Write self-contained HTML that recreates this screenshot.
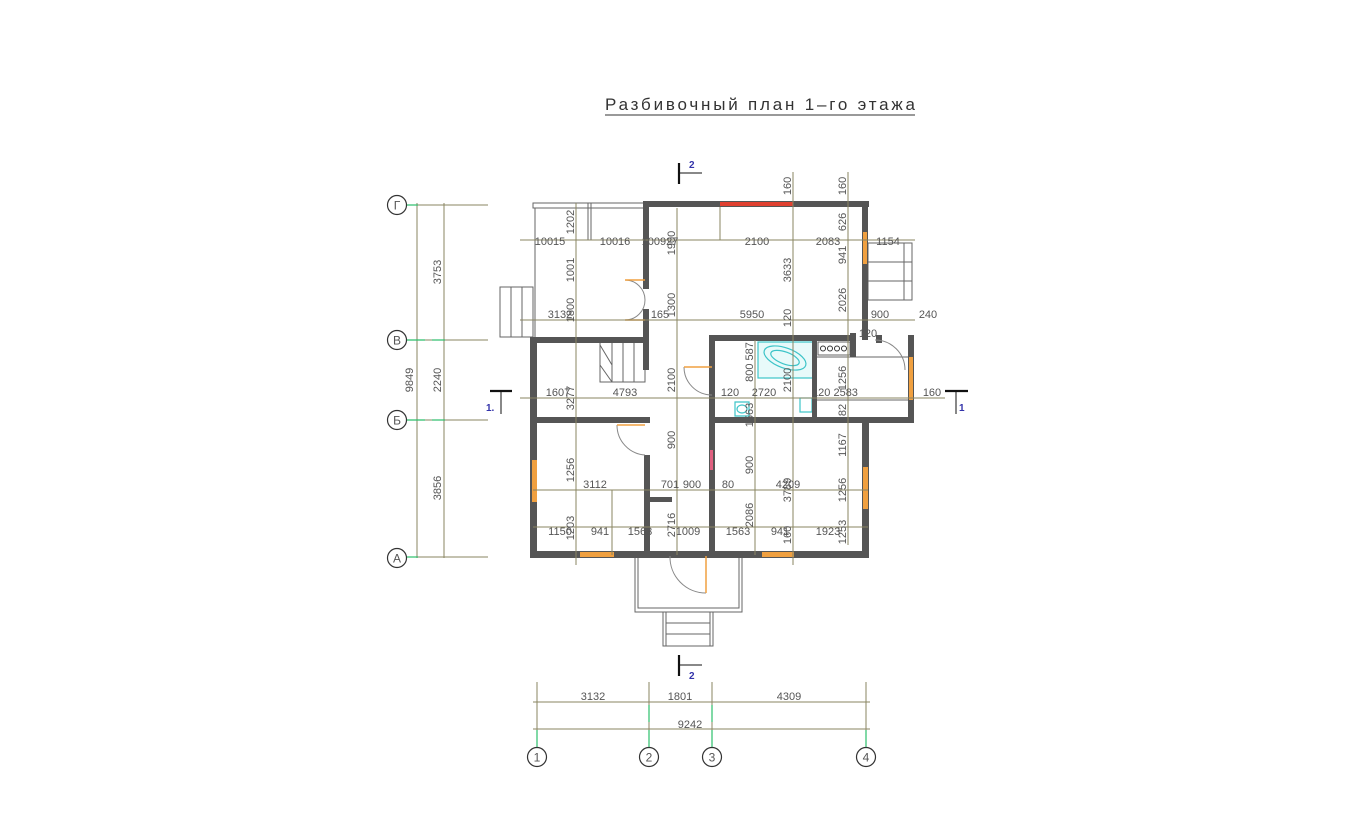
<!DOCTYPE html>
<html><head><meta charset="utf-8"><style>
html,body{margin:0;padding:0;background:#fff;width:1350px;height:840px;overflow:hidden}
svg{display:block}
text{font-family:"Liberation Sans","DejaVu Sans",sans-serif;fill:#555}
.d{stroke:#8a8562;stroke-width:1;fill:none}
.w{fill:#555}
.t{stroke:#666;stroke-width:1;fill:none}
.dt{font-size:11px;fill:#5a5a50}
.o{fill:#f0a040}
text.b{fill:#3333aa;font-size:10px;font-weight:bold}
</style></head><body>
<svg width="1350" height="840" viewBox="0 0 1350 840" xmlns="http://www.w3.org/2000/svg">
<!-- title -->
<text x="605" y="110" font-size="17" textLength="310" lengthAdjust="spacing" style="fill:#333">Разбивочный  план  1–го  этажа</text>
<line x1="605" y1="115" x2="915" y2="115" stroke="#333" stroke-width="1"/>

<!-- left axes -->
<g class="d">
<line x1="417" y1="203" x2="417" y2="558"/>
<line x1="444" y1="203" x2="444" y2="558"/>
<line x1="408" y1="205" x2="488" y2="205"/>
<line x1="408" y1="340" x2="488" y2="340"/>
<line x1="408" y1="420" x2="488" y2="420"/>
<line x1="408" y1="557" x2="488" y2="557"/>
</g>
<g stroke="#2bbf6a" stroke-width="1.2">
<line x1="407" y1="205" x2="418" y2="205"/><line x1="407" y1="340" x2="425" y2="340"/><line x1="432" y1="340" x2="445" y2="340"/>
<line x1="407" y1="420" x2="425" y2="420"/><line x1="432" y1="420" x2="445" y2="420"/><line x1="407" y1="557" x2="418" y2="557"/>
</g>
<g fill="#fff" stroke="#333" stroke-width="1.2">
<circle cx="397" cy="205" r="9.5"/><circle cx="397" cy="340" r="9.5"/><circle cx="397" cy="420" r="9.5"/><circle cx="397" cy="558" r="9.5"/>
</g>
<g font-size="12" text-anchor="middle" style="fill:#333">
<text x="397" y="209.5">Г</text><text x="397" y="344.5">В</text><text x="397" y="424.5">Б</text><text x="397" y="562.5">А</text>
</g>
<g class="dt" text-anchor="middle">
<text transform="translate(441,272) rotate(-90)">3753</text>
<text transform="translate(441,380) rotate(-90)">2240</text>
<text transform="translate(441,488) rotate(-90)">3856</text>
<text transform="translate(413,380) rotate(-90)">9849</text>
</g>

<!-- bottom axes -->
<g class="d">
<line x1="537" y1="682" x2="537" y2="745"/><line x1="649" y1="682" x2="649" y2="745"/>
<line x1="712" y1="682" x2="712" y2="745"/><line x1="866" y1="682" x2="866" y2="745"/>
<line x1="533" y1="702" x2="870" y2="702"/><line x1="533" y1="729" x2="870" y2="729"/>
</g>
<g stroke="#2bbf6a" stroke-width="1.2">
<line x1="537" y1="730" x2="537" y2="747"/><line x1="649" y1="705" x2="649" y2="722"/><line x1="649" y1="730" x2="649" y2="747"/>
<line x1="712" y1="705" x2="712" y2="722"/><line x1="712" y1="730" x2="712" y2="747"/><line x1="866" y1="730" x2="866" y2="747"/>
</g>
<g fill="#fff" stroke="#333" stroke-width="1.2">
<circle cx="537" cy="757" r="9.5"/><circle cx="649" cy="757" r="9.5"/><circle cx="712" cy="757" r="9.5"/><circle cx="866" cy="757" r="9.5"/>
</g>
<g font-size="12" text-anchor="middle" style="fill:#333">
<text x="537" y="761.5">1</text><text x="649" y="761.5">2</text><text x="712" y="761.5">3</text><text x="866" y="761.5">4</text>
</g>
<g class="dt" text-anchor="middle">
<text x="593" y="700">3132</text><text x="680" y="700">1801</text><text x="789" y="700">4309</text><text x="690" y="728">9242</text>
</g>

<!-- section marks -->
<g stroke="#111" stroke-width="2.2" fill="none">
<line x1="679" y1="163" x2="679" y2="184"/><line x1="679" y1="655" x2="679" y2="676"/>
<line x1="490" y1="391" x2="512" y2="391"/><line x1="945" y1="391" x2="968" y2="391"/>
</g>
<g stroke="#111" stroke-width="1" fill="none">
<line x1="680" y1="173" x2="702" y2="173"/><line x1="680" y1="665" x2="702" y2="665"/>
<line x1="501" y1="392" x2="501" y2="414"/><line x1="956" y1="392" x2="956" y2="414"/>
</g>
<text class="b" x="689" y="168">2</text><text class="b" x="689" y="679">2</text><text class="b" x="486" y="411">1.</text><text class="b" x="959" y="411">1</text>

<!-- veranda thin lines -->
<g class="t">
<rect x="533" y="203" width="112" height="5"/>
<line x1="588" y1="203" x2="588" y2="240"/><line x1="591" y1="203" x2="591" y2="240"/>
<line x1="535" y1="208" x2="535" y2="340"/>
<rect x="500" y="287" width="33" height="50"/>
<line x1="511" y1="287" x2="511" y2="337"/><line x1="522" y1="287" x2="522" y2="337"/>
<rect x="868" y="243" width="44" height="57"/>
<line x1="868" y1="262" x2="912" y2="262"/><line x1="868" y1="281" x2="912" y2="281"/>
<line x1="904" y1="243" x2="904" y2="300"/>
<path d="M635 557 V612 H742 V557"/><path d="M638 557 V608 H739 V557"/>
<rect x="663" y="612" width="50" height="34"/><line x1="666" y1="612" x2="666" y2="646"/><line x1="710" y1="612" x2="710" y2="646"/>
<line x1="666" y1="623" x2="710" y2="623"/><line x1="666" y1="634" x2="710" y2="634"/>
<rect x="600" y="342" width="45" height="40"/>
<line x1="612" y1="342" x2="612" y2="382"/><line x1="623" y1="342" x2="623" y2="382"/><line x1="634" y1="342" x2="634" y2="382"/>
<line x1="600" y1="345" x2="612" y2="365"/><line x1="600" y1="365" x2="612" y2="382"/>
<rect x="818" y="342" width="32" height="13"/>
<line x1="815" y1="357" x2="910" y2="357"/><line x1="815" y1="400" x2="910" y2="400"/>
</g>
<g fill="none" stroke="#333" stroke-width="1"><circle cx="823" cy="348.5" r="2.5"/><circle cx="830" cy="348.5" r="2.5"/><circle cx="837" cy="348.5" r="2.5"/><circle cx="844" cy="348.5" r="2.5"/></g>

<g fill="none" stroke="#3cc4c8" stroke-width="1.2">
<rect x="758" y="342" width="55" height="36" fill="#e8fafa"/>
<ellipse cx="785" cy="358" rx="22" ry="10" transform="rotate(20 785 358)"/>
<ellipse cx="785" cy="358" rx="15" ry="6" transform="rotate(20 785 358)"/>
<path d="M735 402 h14 v14 h-14 z"/><ellipse cx="742" cy="409" rx="5" ry="4"/>
<rect x="800" y="398" width="12" height="14"/>
</g>

<!-- walls -->
<g class="w">
<rect x="643" y="201" width="226" height="6"/>
<rect x="862" y="201" width="6" height="139"/>
<rect x="643" y="201" width="6" height="88"/>
<rect x="643" y="309" width="6" height="35"/>
<rect x="530" y="337" width="119" height="6"/>
<rect x="530" y="337" width="7" height="221"/>
<rect x="530" y="551" width="339" height="7"/>
<rect x="862" y="417" width="7" height="141"/>
<rect x="709" y="335" width="145" height="6"/>
<rect x="850" y="333" width="6" height="24"/>
<rect x="709" y="335" width="6" height="223"/>
<rect x="812" y="335" width="5" height="85"/>
<rect x="709" y="417" width="205" height="6"/>
<rect x="908" y="335" width="6" height="88"/>
<rect x="876" y="335" width="6" height="8"/>
<rect x="533" y="417" width="117" height="6"/>
<rect x="644" y="455" width="6" height="100"/>
<rect x="644" y="497" width="28" height="5"/>
<rect x="643" y="342" width="6" height="28"/>
</g>
<rect x="720" y="202" width="73" height="4" fill="#e04030"/>
<rect x="863" y="232" width="4" height="32" class="o"/>
<rect x="909" y="357" width="4" height="43" class="o"/>
<rect x="532" y="460" width="5" height="42" class="o"/>
<rect x="863" y="467" width="5" height="42" class="o"/>
<rect x="580" y="552" width="34" height="5" class="o"/>
<rect x="762" y="552" width="32" height="5" class="o"/>
<rect x="710" y="450" width="3" height="20" fill="#e06080"/>
<g fill="none" stroke="#888" stroke-width="1">
<path d="M625 280 A20 20 0 0 1 645 300"/><path d="M625 320 A20 20 0 0 0 645 300"/>
<path d="M684 367 A28 28 0 0 0 712 395"/>
<path d="M617 425 A30 30 0 0 0 645 455"/>
<path d="M670 556 A36 36 0 0 0 706 593"/>
<path d="M875 340 A30 30 0 0 1 905 370"/>
</g>
<g stroke="#f0a040" stroke-width="1.5"><line x1="625" y1="280" x2="645" y2="280"/><line x1="625" y1="320" x2="645" y2="320"/><line x1="684" y1="367" x2="712" y2="367"/><line x1="617" y1="425" x2="645" y2="425"/><line x1="706" y1="556" x2="706" y2="593"/></g>

<g class="d">
<line x1="520" y1="240" x2="915" y2="240"/>
<line x1="520" y1="320" x2="915" y2="320"/>
<line x1="520" y1="398" x2="945" y2="398"/>
<line x1="533" y1="490" x2="868" y2="490"/>
<line x1="533" y1="527" x2="868" y2="527"/>
<line x1="576" y1="203" x2="576" y2="565"/>
<line x1="677" y1="208" x2="677" y2="555"/>
<line x1="755" y1="340" x2="755" y2="555"/>
<line x1="793" y1="172" x2="793" y2="565"/>
<line x1="848" y1="172" x2="848" y2="545"/>
<line x1="720" y1="207" x2="720" y2="240"/>
<line x1="612" y1="490" x2="612" y2="555"/>
</g>
<g class="dt" text-anchor="middle">
<text x="550" y="245">10015</text><text x="615" y="245">10016</text><text x="660" y="245">100927</text><text x="757" y="245">2100</text><text x="828" y="245">2083</text><text x="888" y="245">1154</text>
<text x="560" y="318">3132</text><text x="660" y="318">165</text><text x="752" y="318">5950</text><text x="880" y="318">900</text><text x="928" y="318">240</text><text x="868" y="337">120</text>
<text x="558" y="396">1607</text><text x="625" y="396">4793</text><text x="730" y="396">120</text><text x="764" y="396">2720</text><text x="835" y="396">120 2583</text><text x="932" y="396">160</text>
<text x="595" y="488">3112</text><text x="670" y="488">701</text><text x="692" y="488">900</text><text x="728" y="488">80</text><text x="788" y="488">4209</text>
<text x="560" y="535">1150</text><text x="600" y="535">941</text><text x="640" y="535">1563</text><text x="688" y="535">1009</text><text x="738" y="535">1563</text><text x="780" y="535">941</text><text x="828" y="535">1923</text>
</g>
<g class="dt" text-anchor="middle">
<text transform="translate(574,222) rotate(-90)">1202</text>
<text transform="translate(574,270) rotate(-90)">1001</text>
<text transform="translate(574,310) rotate(-90)">1800</text>
<text transform="translate(574,398) rotate(-90)">3277</text>
<text transform="translate(574,470) rotate(-90)">1256</text>
<text transform="translate(574,528) rotate(-90)">1203</text>
<text transform="translate(675,243) rotate(-90)">1900</text>
<text transform="translate(675,305) rotate(-90)">1300</text>
<text transform="translate(675,380) rotate(-90)">2100</text>
<text transform="translate(675,440) rotate(-90)">900</text>
<text transform="translate(675,525) rotate(-90)">2716</text>
<text transform="translate(753,362) rotate(-90)">800 587</text>
<text transform="translate(753,415) rotate(-90)">1563</text>
<text transform="translate(753,465) rotate(-90)">900</text>
<text transform="translate(753,515) rotate(-90)">2086</text>
<text transform="translate(791,186) rotate(-90)">160</text>
<text transform="translate(791,270) rotate(-90)">3633</text>
<text transform="translate(791,318) rotate(-90)">120</text>
<text transform="translate(791,380) rotate(-90)">2100</text>
<text transform="translate(791,490) rotate(-90)">3789</text>
<text transform="translate(791,535) rotate(-90)">160</text>
<text transform="translate(846,186) rotate(-90)">160</text>
<text transform="translate(846,222) rotate(-90)">626</text>
<text transform="translate(846,255) rotate(-90)">941</text>
<text transform="translate(846,300) rotate(-90)">2026</text>
<text transform="translate(846,378) rotate(-90)">1256</text>
<text transform="translate(846,410) rotate(-90)">82</text>
<text transform="translate(846,445) rotate(-90)">1167</text>
<text transform="translate(846,490) rotate(-90)">1256</text>
<text transform="translate(846,532) rotate(-90)">1253</text>
</g>
</svg>
</body></html>
